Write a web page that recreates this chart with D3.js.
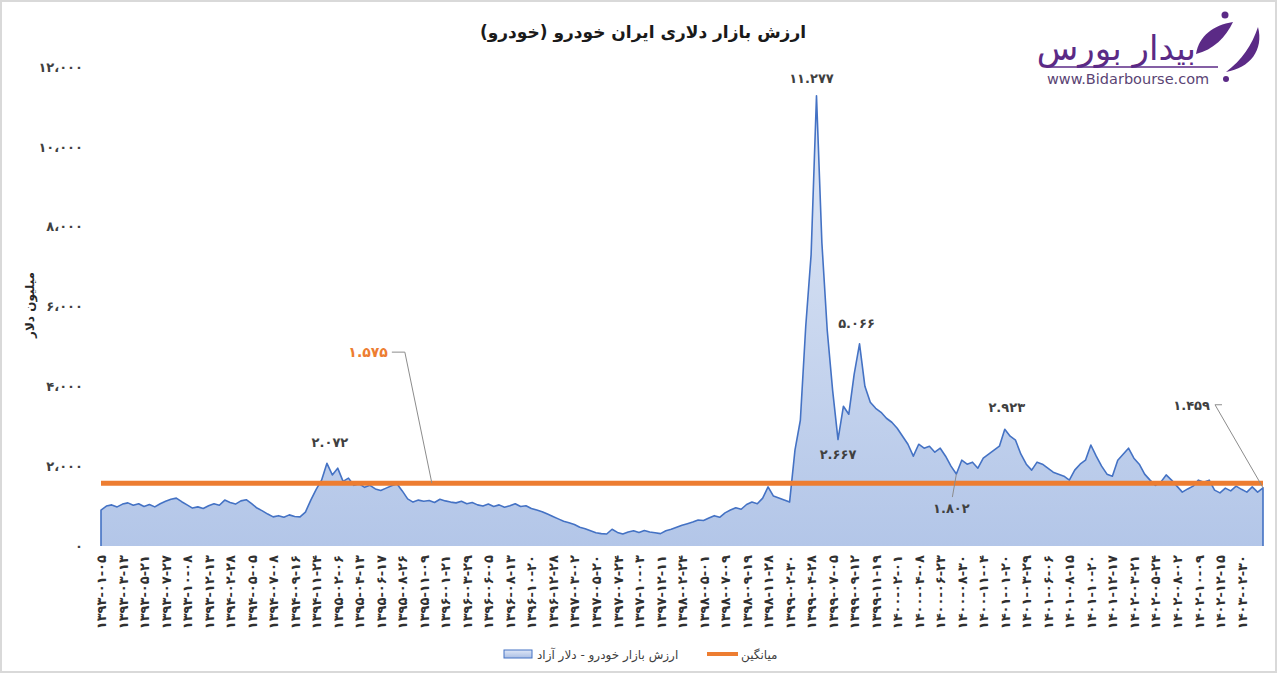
<!DOCTYPE html>
<html lang="fa">
<head>
<meta charset="UTF-8">
<script src="https://cdnjs.cloudflare.com/ajax/libs/d3/7.8.5/d3.min.js"></script>
<title>ارزش بازار دلاری ایران خودرو</title>
<style>
  body { margin: 0; background: #fff; }
  text { font-family: 'DejaVu Sans', sans-serif; }
  .tick_text { font-size: 13px; font-weight: bold; fill: #303030; }
  .ylab { font-size: 13px; font-weight: bold; fill: #404040; }
  .callout { font-size: 13px; font-weight: bold; fill: #404040; }
</style>
</head>
<body>
<div id="chart"></div>
<script>
// ---- data ----
var tickLabels = ["1393-01-05","1393-03-13","1393-05-21","1393-07-27","1393-10-08","1393-12-13",
  "1394-02-28","1394-05-05","1394-07-08","1394-09-16","1394-11-24","1395-02-06","1395-04-13",
  "1395-06-17","1395-08-26","1395-11-09","1396-01-21","1396-03-29","1396-06-05","1396-08-13",
  "1396-10-20","1396-12-28","1397-03-02","1397-05-20","1397-07-24","1397-10-03","1397-12-11",
  "1398-02-24","1398-05-01","1398-07-09","1398-09-19","1398-11-28","1399-02-30","1399-04-28",
  "1399-07-05","1399-09-12","1399-11-19","1400-02-01","1400-04-08","1400-06-23","1400-08-30",
  "1400-11-04","1401-01-20","1401-03-29","1401-06-06","1401-08-15","1401-10-20","1401-12-17",
  "1402-03-21","1402-05-24","1402-08-02","1402-10-09","1402-12-15","1403-02-30"];
var tickStep = 4; // samples between labelled dates

// market value, million USD
var marketValue = [
  900,1000,1030,980,1050,1080,1020,1060,990,1040,
  980,1060,1120,1170,1200,1110,1030,950,980,940,
  1010,1060,1020,1150,1090,1050,1130,1160,1060,950,
  880,800,730,760,720,780,740,730,850,1150,
  1420,1650,2072,1780,1950,1620,1700,1520,1560,1470,
  1520,1430,1390,1450,1510,1560,1380,1180,1100,1150,
  1120,1140,1090,1170,1130,1100,1080,1120,1060,1090,
  1030,1000,1050,990,1030,970,1010,1060,990,1010,
  940,900,860,800,740,680,620,580,540,470,
  430,380,330,310,300,420,340,300,350,380,
  340,390,350,330,310,380,420,470,520,560,
  600,650,640,700,760,720,830,900,960,920,
  1040,1100,1060,1200,1480,1250,1200,1150,1100,2400,
  3150,5500,7300,11277,7600,5400,3900,2667,3500,3300,
  4300,5066,4000,3600,3450,3350,3200,3100,2950,2750,
  2550,2250,2550,2450,2500,2350,2450,2250,2000,1802,
  2150,2050,2100,1950,2200,2300,2400,2500,2923,2750,
  2650,2300,2050,1900,2100,2050,1950,1850,1800,1750,
  1650,1900,2050,2150,2530,2250,2000,1800,1750,2150,
  2300,2450,2200,2050,1800,1650,1520,1600,1780,1650,
  1500,1350,1430,1500,1650,1600,1650,1400,1330,1450,
  1380,1500,1420,1350,1480,1350,1459];
var average = 1575;
var yTicks = [0, 2000, 4000, 6000, 8000, 10000, 12000];

var title = "ارزش بازار دلاری ایران خودرو (خودرو)";
var yTitle = "میلیون دلار";
var seriesName = "ارزش بازار خودرو - دلار آزاد";
var avgName = "میانگین";

// labelled points (index into marketValue) and where their text sits
var callouts = [
  {i: 42,  dx: 3,  dy: -16},
  {i: 133, dx: -5, dy: -13},
  {i: 141, dx: -3, dy: -16},
  {i: 137, dx: 0,  dy: 19},
  {i: 168, dx: 2,  dy: -17},
  {i: 159, dx: -5, dy: 39, leader: [[-4, 23]]},
  {i: 216, dx: -53, dy: -78, anchor: "end", leader: [[-48, -83], [-41, -83]]}
];

var W = 1280, H = 675;
var fa = function(s) { return String(s).replace(/\d/g, function(d){ return "۰۱۲۳۴۵۶۷۸۹"[d]; }); };
var fmtAxis = function(v) { return fa(d3.format(",")(v)).replace(/,/g, "،"); };
var fmtLabel = function(v) { return fa(d3.format(",")(v)).replace(/,/g, "."); };

var svg = d3.select("#chart").append("svg")
  .attr("width", W).attr("height", H);

svg.append("rect")
  .attr("x", 1).attr("y", 1).attr("width", W - 5).attr("height", H - 4)
  .style("fill", "#fff").style("stroke", "#d9d9d9").style("stroke-width", 2);

var defs = svg.append("defs");
var grad = defs.append("linearGradient").attr("id", "areaGrad")
  .attr("gradientUnits", "userSpaceOnUse")
  .attr("x1", 0).attr("x2", 0).attr("y1", 67).attr("y2", 546);
grad.append("stop").attr("offset", "0%").attr("stop-color", "#e4ebf7");
grad.append("stop").attr("offset", "100%").attr("stop-color", "#b3c6e8");

var legGrad = defs.append("linearGradient").attr("id", "legGrad")
  .attr("x1", 0).attr("x2", 0).attr("y1", 0).attr("y2", 1);
legGrad.append("stop").attr("offset", "0%").attr("stop-color", "#dfe7f6");
legGrad.append("stop").attr("offset", "100%").attr("stop-color", "#a9bee5");

var x = d3.scaleLinear().domain([0, marketValue.length - 1]).range([101, 1263]);
var y = d3.scaleLinear().domain([0, 12000]).range([546, 67]);

// area + outline
var area = d3.area()
  .x(function(d, i) { return x(i); })
  .y0(y(0))
  .y1(function(d) { return y(d); });

svg.append("path")
  .datum(marketValue)
  .attr("d", area)
  .style("fill", "url(#areaGrad)");

var outline = [[0, 0]].concat(marketValue.map(function(d, i){ return [i, d]; }))
  .concat([[marketValue.length - 1, 0]]);
svg.append("path")
  .datum(outline)
  .attr("d", d3.line().x(function(d){ return x(d[0]); }).y(function(d){ return y(d[1]); }))
  .style("fill", "none").style("stroke", "#4472c4").style("stroke-width", 1.6)
  .style("stroke-linejoin", "round");

// average line
svg.append("line")
  .attr("x1", x(0)).attr("x2", x(marketValue.length - 1))
  .attr("y1", y(average)).attr("y2", y(average))
  .style("stroke", "#ed7d31").style("stroke-width", 5);

// y axis
var yAxis = svg.append("g")
  .attr("transform", "translate(" + x(0) + ",0)")
  .call(d3.axisLeft(y).tickValues(yTicks).tickSize(0).tickPadding(18).tickFormat(fmtAxis));
yAxis.select(".domain").remove();
yAxis.selectAll("text").attr("class", "ylab").style("font-family", "'DejaVu Sans', sans-serif");

// x axis
var xAxis = svg.append("g")
  .attr("transform", "translate(0," + y(0) + ")")
  .call(d3.axisBottom(x)
    .tickValues(tickLabels.map(function(d, i){ return i * tickStep; }))
    .tickSize(0)
    .tickFormat(function(d){ return fa(tickLabels[d / tickStep]); }));
xAxis.select(".domain").remove();
xAxis.selectAll("text")
  .attr("class", "tick_text")
  .style("font-family", "'DejaVu Sans', sans-serif")
  .attr("transform", "rotate(-90)")
  .attr("x", -9).attr("y", 0).attr("dy", "0.35em")
  .style("text-anchor", "end");

// callouts
callouts.forEach(function(c) {
  var px = x(c.i), py = y(marketValue[c.i]);
  if (c.leader) {
    var pts = [[px, py]].concat(c.leader.map(function(p){ return [px + p[0], py + p[1]]; }));
    svg.append("path").attr("d", d3.line()(pts))
      .style("fill", "none").style("stroke", "#8c8c8c").style("stroke-width", 1);
  }
  svg.append("text")
    .attr("class", "callout")
    .attr("x", px + c.dx).attr("y", py + c.dy)
    .style("text-anchor", c.anchor || "middle")
    .text(fmtLabel(marketValue[c.i]));
});

// average callout
var ax = x(61.5), ay = y(average);
svg.append("path")
  .attr("d", d3.line()([[ax, ay], [ax - 27, ay - 131], [ax - 40, ay - 131]]))
  .style("fill", "none").style("stroke", "#8c8c8c").style("stroke-width", 1);
svg.append("text")
  .attr("x", ax - 44).attr("y", ay - 126)
  .style("text-anchor", "end").style("font-size", "14px").style("font-weight", "bold")
  .style("fill", "#ed7d31")
  .text(fmtLabel(average));

// title
svg.append("text")
  .attr("x", 643).attr("y", 38)
  .style("text-anchor", "middle").style("font-size", "17px").style("font-weight", "bold")
  .style("fill", "#1a1a1a")
  .text(title);

// y title
svg.append("text")
  .attr("transform", "translate(34,305) rotate(-90)")
  .style("text-anchor", "middle").style("font-size", "12px").style("font-weight", "bold")
  .style("fill", "#262626")
  .text(yTitle);

// legend
svg.append("rect")
  .attr("x", 504).attr("y", 650).attr("width", 28).attr("height", 8)
  .style("fill", "url(#legGrad)").style("stroke", "#4472c4").style("stroke-width", 1);
svg.append("text")
  .attr("x", 537).attr("y", 659)
  .style("font-size", "12px").style("fill", "#404040")
  .text(seriesName);
svg.append("line")
  .attr("x1", 707).attr("x2", 738).attr("y1", 654).attr("y2", 654)
  .style("stroke", "#ed7d31").style("stroke-width", 4);
svg.append("text")
  .attr("x", 741).attr("y", 659)
  .style("font-size", "12px").style("fill", "#404040")
  .text(avgName);

// logo
var logo = svg.append("g");
logo.append("text")
  .attr("x", 1196).attr("y", 60)
  .style("text-anchor", "end").style("font-size", "34px").style("fill", "#5b2a86")
  .text("بیدار بورس");
logo.append("line")
  .attr("x1", 1047).attr("x2", 1218).attr("y1", 67).attr("y2", 67)
  .style("stroke", "#5b2a86").style("stroke-width", 1.5);
logo.append("text")
  .attr("x", 1047).attr("y", 84)
  .style("font-size", "14.5px").style("fill", "#5a4474")
  .text("www.Bidarbourse.com");
logo.append("circle").attr("cx", 1226).attr("cy", 79).attr("r", 3).style("fill", "#5b2a86");
logo.append("circle").attr("cx", 1225).attr("cy", 15).attr("r", 3.5).style("fill", "#5b2a86");
logo.append("path")
  .attr("d", "M1196,54 C1199,36 1213,25 1233,22 C1226,37 1213,50 1196,54 Z")
  .style("fill", "#5b2a86");
logo.append("path")
  .attr("d", "M1226,72 C1242,60 1252,45 1258,27 C1264,50 1250,68 1226,72 Z")
  .style("fill", "#5b2a86");
</script>
</body>
</html>
